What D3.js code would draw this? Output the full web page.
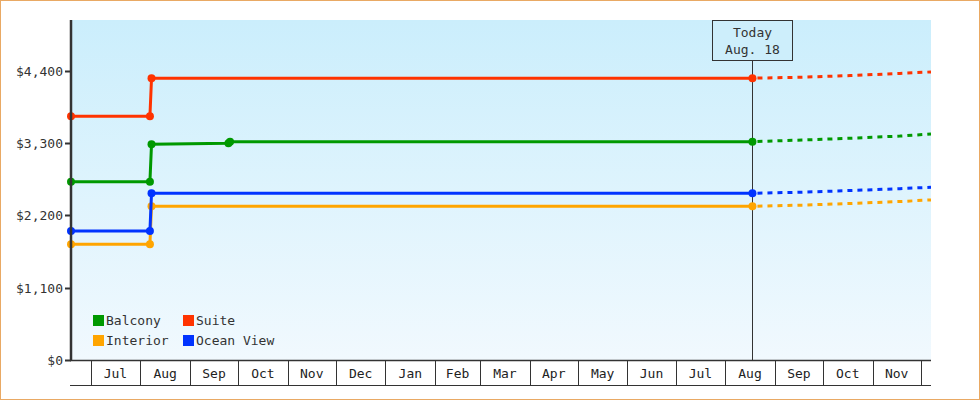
<!DOCTYPE html>
<html><head><meta charset="utf-8">
<script src="https://cdn.jsdelivr.net/npm/d3@7"></script>
<style>body{margin:0;background:#fff}svg{display:block;font-family:"DejaVu Sans Mono",monospace}</style>
</head><body><div id="chart"></div>
<script>
// ---- data ----
const seriesNames = ["Balcony", "Suite", "Interior", "Ocean View"];
const seriesColors = ["#009900", "#ff3300", "#ffa500", "#0033ff"];
const histDates = {
  "Balcony":    ["2022-06-18T18:00", "2022-08-07", "2022-08-08", "2022-09-25", "2022-09-26", "2023-08-18"],
  "Suite":      ["2022-06-18T18:00", "2022-08-07", "2022-08-08", "2023-08-18"],
  "Interior":   ["2022-06-18T18:00", "2022-08-07", "2022-08-08", "2023-08-18"],
  "Ocean View": ["2022-06-18T18:00", "2022-08-07", "2022-08-08", "2023-08-18"]
};
const histValues = {
  "Balcony":    [2712, 2712, 3281, 3295, 3320, 3320],
  "Suite":      [3707, 3707, 4285, 4285],
  "Interior":   [1760, 1760, 2338, 2338],
  "Ocean View": [1962, 1962, 2535, 2535]
};
const markerIdx = {
  "Balcony": [0, 1, 2, 3, 4, 5],
  "Suite": [0, 1, 2, 3],
  "Interior": [0, 1, 2, 3],
  "Ocean View": [0, 1, 2, 3]
};
const forecastDates = ["2023-08-18", "2023-09-18", "2023-10-18", "2023-11-18", "2023-12-07T10:00"];
const forecastValues = {
  "Balcony":    [3320, 3345, 3372, 3405, 3437],
  "Suite":      [4285, 4300, 4325, 4358, 4380],
  "Interior":   [2338, 2355, 2380, 2410, 2434],
  "Ocean View": [2535, 2552, 2577, 2605, 2627]
};
const yTicks = [0, 1100, 2200, 3300, 4400];
const domainStart = "2022-06-18T18:00";
const domainEnd = "2023-12-07T10:00";
const todayDate = "2023-08-18";
const todayLabel = ["Today", "Aug. 18"];

// ---- layout ----
const W = 980, H = 400;
const m = {left: 71, right: 49, top: 20, bottom: 40};
const iw = W - m.left - m.right, ih = H - m.top - m.bottom;
const parse = s => new Date(s);

const svg = d3.select("#chart").append("svg").attr("width", W).attr("height", H);
svg.append("rect").attr("x", 0.5).attr("y", 0.5).attr("width", W - 1).attr("height", H - 1)
  .attr("fill", "#fff").attr("stroke", "#e9a964").attr("stroke-width", 1);

const defs = svg.append("defs");
const grad = defs.append("linearGradient").attr("id", "bg").attr("x1", 0).attr("y1", 0).attr("x2", 0).attr("y2", 1);
grad.append("stop").attr("offset", "0%").attr("stop-color", "#cbeefc");
grad.append("stop").attr("offset", "100%").attr("stop-color", "#f1f9fe");

const x = d3.scaleTime().domain([parse(domainStart), parse(domainEnd)]).range([m.left, m.left + iw]);
const y = d3.scaleLinear().domain([0, 5170]).range([m.top + ih, m.top]);

svg.append("rect").attr("x", m.left).attr("y", m.top).attr("width", iw).attr("height", ih).attr("fill", "url(#bg)");

const ink = "#333";
const baseY = m.top + ih;

// today line and box
const tx = Math.round(x(parse(todayDate))) + 0.5;
svg.append("line").attr("x1", tx).attr("x2", tx).attr("y1", 61).attr("y2", baseY).attr("stroke", ink).attr("stroke-width", 1);
svg.append("rect").attr("x", tx - 40).attr("y", 20.5).attr("width", 80).attr("height", 40)
  .attr("fill", "#cdeefb").attr("stroke", ink).attr("stroke-width", 1);
todayLabel.forEach((t, i) => {
  svg.append("text").attr("x", tx).attr("y", 37 + i * 17).attr("text-anchor", "middle")
    .attr("font-size", 13).attr("fill", ink).text(t);
});

// series
const line = d3.line().x(d => x(d[0])).y(d => y(d[1]));
seriesNames.forEach((name, si) => {
  const col = seriesColors[si];
  const pts = histDates[name].map((d, i) => [parse(d), histValues[name][i]]);
  const fpts = forecastDates.map((d, i) => [parse(d), forecastValues[name][i]]);
  svg.append("path").attr("d", line(fpts)).attr("fill", "none").attr("stroke", col)
    .attr("stroke-width", 3).attr("stroke-dasharray", "5,5").attr("stroke-dashoffset", -5);
  svg.append("path").attr("d", line(pts)).attr("fill", "none").attr("stroke", col).attr("stroke-width", 3);
  svg.selectAll(null).data(markerIdx[name].map(i => pts[i])).enter().append("circle")
    .attr("cx", d => x(d[0])).attr("cy", d => y(d[1])).attr("r", 4).attr("fill", col);
});

// y axis
svg.append("line").attr("x1", m.left).attr("x2", m.left).attr("y1", m.top).attr("y2", baseY + 1)
  .attr("stroke", ink).attr("stroke-width", 2.5);
yTicks.forEach(v => {
  const yy = Math.round(y(v)) + 0.5;
  svg.append("line").attr("x1", m.left - 6).attr("x2", m.left).attr("y1", yy).attr("y2", yy)
    .attr("stroke", ink).attr("stroke-width", 2);
  svg.append("text").attr("x", m.left - 8).attr("y", yy + 4.5).attr("text-anchor", "end")
    .attr("font-size", 13).attr("fill", ink).text("$" + d3.format(",")(v));
});

// x axis (month boxes)
const x0 = 70, x1 = m.left + iw;
svg.append("line").attr("x1", x0).attr("x2", x1).attr("y1", baseY + 0.5).attr("y2", baseY + 0.5)
  .attr("stroke", ink).attr("stroke-width", 1.5);
svg.append("line").attr("x1", x0).attr("x2", x1).attr("y1", 385.5).attr("y2", 385.5)
  .attr("stroke", ink).attr("stroke-width", 1);
const months = d3.timeMonth.range(d3.timeMonth.ceil(x.domain()[0]), x.domain()[1]);
months.forEach(mo => {
  const xx = Math.round(x(mo)) + 0.5;
  svg.append("line").attr("x1", xx).attr("x2", xx).attr("y1", baseY).attr("y2", 385.5)
    .attr("stroke", ink).attr("stroke-width", 1);
  const next = d3.timeMonth.offset(mo, 1);
  if (next <= x.domain()[1]) {
    svg.append("text").attr("x", (x(mo) + x(next)) / 2).attr("y", 378).attr("text-anchor", "middle")
      .attr("font-size", 13).attr("fill", "#222").text(d3.timeFormat("%b")(mo));
  }
});

// legend
const legendOrder = ["Balcony", "Suite", "Interior", "Ocean View"];
legendOrder.forEach((name, i) => {
  const col = i % 2, row = Math.floor(i / 2);
  const lx = 93 + col * 90, ly = 315 + row * 20;
  svg.append("rect").attr("x", lx).attr("y", ly).attr("width", 11).attr("height", 11)
    .attr("fill", seriesColors[seriesNames.indexOf(name)]);
  svg.append("text").attr("x", lx + 13).attr("y", ly + 10).attr("font-size", 13).attr("fill", ink).text(name);
});
</script></body></html>
